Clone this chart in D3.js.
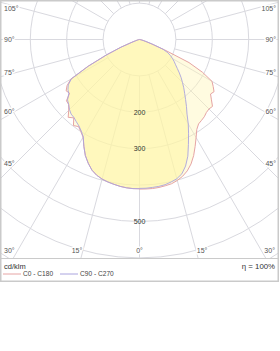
<!DOCTYPE html>
<html><head><meta charset="utf-8">
<script src="https://cdn.jsdelivr.net/npm/d3@7"></script>
<style>html,body{margin:0;padding:0;background:#fff;} svg{display:block;font-family:"Liberation Sans",Arial,sans-serif;}</style>
</head><body><svg id="c" width="280" height="351"></svg>
<script>
// gamma angles (degrees from nadir)
const gammaAngles = [0,2.5,5,7.5,10,12.5,15,17.5,20,22.5,25,27.5,30,32.5,35,37.5,40,42.5,45,47.5,50,52.5,55,57.5,60,62.5,65,67.5,70,72.5,75,77.5,80,82.5,85,87.5,90];
// intensities cd/klm
const c0   = [411,411,411,410,408,406,401,394,384,370,352,331,311,293,283,280,277,272,270,272,258,246,250,240,230,195,150,75,35,18,10,6,4,2,1,0.5,0];
const c90  = [409,409,408,407,405,401,396,387,370,347,318,292,268,243,225,208,193,180,167,155,143,131,121,113,105,96,86,70,40,22,12,7,4,2,1,0.5,0];
const c180 = [410,410,409,407,404,401,397,391,382,368,352,331,310,300,292,298,281,290,275,264,262,242,246,236,218,160,100,55,22,11,6,4,3,2,1,0.5,0];
const c270 = [410,410,409,407,404,401,397,391,382,368,352,331,309,298,290,285,280,278,272,264,258,245,240,232,216,158,100,55,22,11,6,4,3,2,1,0.5,0];
const ringValues = [100,200,300,400,500,600,700];
const ringLabels = ["200","300","500"];
const sideLabelAngles = [105,90,75,60,45];
const bottomLabelAngles = [30,15,0];
const legendNames = ["C0 - C180","C90 - C270"];
const unitLabel = "cd/klm";
const effLabel = "η = 100%";

const cx = 139.5, cy = 39.5;
const box = {x0:1, y0:1, x1:278, y1:258};
const r = d3.scaleLinear().domain([0,100]).range([0,36.4]);
const rad = d => d*Math.PI/180;
const svg = d3.select('#c');
svg.append('rect').attr('width',280).attr('height',351).attr('fill','#fff');
svg.append('defs').append('clipPath').attr('id','clip').append('rect')
  .attr('x',box.x0).attr('y',box.y0).attr('width',box.x1-box.x0).attr('height',box.y1-box.y0);

const g = svg.append('g').attr('clip-path','url(#clip)');
const gridColor = '#d9d9df';
g.selectAll('circle.ring').data(ringValues).join('circle').attr('class','ring')
  .attr('cx',cx).attr('cy',cy).attr('r',d=>r(d)).attr('fill','none').attr('stroke',gridColor).attr('stroke-width',1);
g.selectAll('line.spoke').data(d3.range(0,360,15)).join('line').attr('class','spoke')
  .attr('x1',d=>cx+r(100)*Math.sin(rad(d))).attr('y1',d=>cy+r(100)*Math.cos(rad(d)))
  .attr('x2',d=>cx+r(1000)*Math.sin(rad(d))).attr('y2',d=>cy+r(1000)*Math.cos(rad(d)))
  .attr('stroke',gridColor).attr('stroke-width',1);

function curvePts(right,left){
  const pts=[];
  gammaAngles.forEach((a,i)=>pts.push({a:Math.PI-rad(a), v:right[i]}));
  for(let i=gammaAngles.length-1;i>=0;i--) pts.push({a:Math.PI+rad(gammaAngles[i]), v:left[i]});
  return pts;
}
const radial = d3.lineRadial().angle(d=>d.a).radius(d=>r(d.v)).curve(d3.curveLinearClosed);
const cg = g.append('g').attr('transform',`translate(${cx},${cy})`);
const pA = curvePts(c0,c180), pB = curvePts(c90,c270);
cg.append('path').attr('d',radial(pA)).attr('fill','rgb(255,245,180)').attr('fill-opacity',0.42).attr('stroke','none');
cg.append('path').attr('d',radial(pB)).attr('fill','rgb(255,245,160)').attr('fill-opacity',0.55).attr('stroke','none');
cg.append('path').attr('d',radial(pA)).attr('fill','none').attr('stroke','#e6a4a4').attr('stroke-width',1);
cg.append('path').attr('d',radial(pB)).attr('fill','none').attr('stroke','#aaa4de').attr('stroke-width',0.9);

// ring labels
g.selectAll('text.rl').data(ringLabels).join('text').attr('class','rl')
  .attr('x',cx).attr('y',d=>cy+r(+d)).attr('dy','0.35em').attr('text-anchor','middle')
  .attr('font-size',7).attr('fill','#333').text(d=>d);

// angle labels
const lab = svg.append('g').attr('font-size',7).attr('fill','#555');
function addLab(x,y,anchor,t){
  lab.append('text').attr('x',x).attr('y',y).attr('dy','0.35em').attr('text-anchor',anchor)
    .attr('stroke','#fff').attr('stroke-width',3).attr('paint-order','stroke').text(t);
}
sideLabelAngles.forEach(a=>{
  const dx = cx-15;
  let y = cy + dx/Math.tan(rad(a));
  if(a===90) y = cy;
  y = Math.max(9,y);
  addLab(4,y,'start',a+'°');
  addLab(276,y,'end',a+'°');
});
bottomLabelAngles.forEach(a=>{
  const dy = box.y1-cy;
  const off = a===0?0:dy*Math.tan(rad(a))+4;
  addLab(cx-off,251,'middle',a+'°');
  if(a!==0) addLab(cx+off,251,'middle',a+'°');
});

// frame
svg.append('rect').attr('x',0.75).attr('y',0.75).attr('width',277.5).attr('height',280.5)
  .attr('fill','none').attr('stroke','#cacaca').attr('stroke-width',1.5);
svg.append('line').attr('x1',0.75).attr('x2',278.25).attr('y1',258.5).attr('y2',258.5).attr('stroke','#cacaca').attr('stroke-width',1.2);

// legend
svg.append('text').attr('x',4).attr('y',269).attr('font-size',7.5).attr('fill','#333').text(unitLabel);
svg.append('text').attr('x',275).attr('y',269).attr('text-anchor','end').attr('font-size',7.8).attr('fill','#333').text(effLabel);
const legColors = ['#e6a4a4','#aaa4de'];
const legX = [3,60];
legendNames.forEach((n,i)=>{
  svg.append('line').attr('x1',legX[i]).attr('x2',legX[i]+18).attr('y1',274).attr('y2',274).attr('stroke',legColors[i]).attr('stroke-width',1);
  svg.append('text').attr('x',legX[i]+20).attr('y',274).attr('dy','0.35em').attr('font-size',6.6).attr('fill','#444').text(n);
});
</script></body></html>
